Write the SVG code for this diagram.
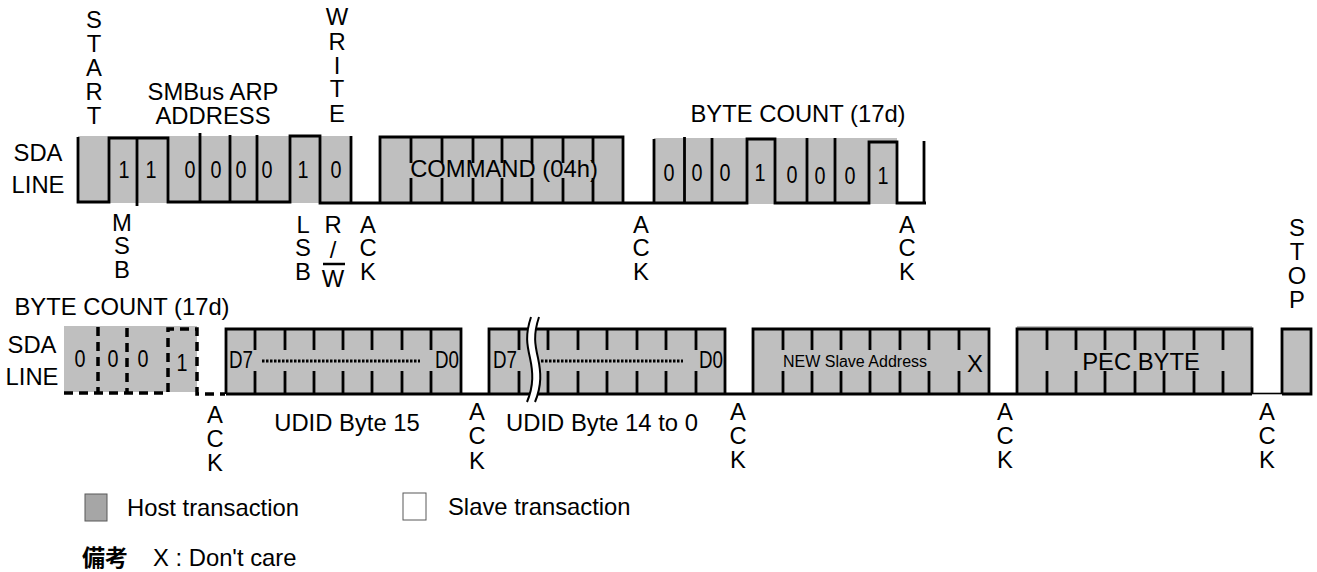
<svg xmlns="http://www.w3.org/2000/svg" width="1317" height="572" viewBox="0 0 1317 572">
<style>
text{font-family:"Liberation Sans",Arial,sans-serif;font-size:23.800px;fill:#000}
.m{text-anchor:middle}
.d{font-size:24px;text-anchor:middle}
.g{fill:#bfbfbf}
.l{fill:none;stroke:#000;stroke-width:2.800}
.da{fill:none;stroke:#000;stroke-width:3.500;stroke-dasharray:9 6}
.dot{fill:none;stroke:#000;stroke-width:3;stroke-dasharray:2.500 1.500}
.w{fill:none;stroke:#000;stroke-width:2}
</style>
<g id="row1-fill">
<rect class="g" x="78" y="136" width="273" height="67"/>
<rect class="g" x="380" y="137" width="243" height="66"/>
<rect class="g" x="654" y="138" width="243" height="66"/>
</g>
<g id="row2-fill">
<rect class="g" x="64" y="326" width="133" height="66"/>
<rect class="g" x="226" y="328" width="235" height="66"/>
<rect class="g" x="489" y="329" width="236" height="65"/>
<rect class="g" x="753" y="329" width="236" height="65"/>
<rect class="g" x="1017" y="326" width="235" height="68"/>
<rect class="g" x="1282" y="329" width="29" height="65"/>
</g>
<g id="row1-wave">
<path class="l" d="M78 137V202H109V138H168V202H290V136H320V203H351V136M320 203H380V137H623V203H380M623 203H654V139M654 203H747V139H775V203H869V142H897V203H926M924 141V203"/>
<path class="l" d="M137 138V206M200 133V202M230 135V202M257 135V202"/>
<path class="l" d="M411 137V163M442 137V163M473 137V163M502 137V163M532 137V163M563 137V163M593 137V163M411 178V203M442 178V203M473 178V203M502 178V203M532 178V203M563 178V203M593 178V203"/>
<path class="l" d="M684.500 137V203M712 138V203M807 138V203M835 138V203"/>
</g>
<g id="row2-wave">
<path class="da" d="M64 393H168V329H197V394H225M98 327V393M127 328V393"/>
<path class="l" d="M226 394V329H461V394M489 394V329H725V394M753 394V329H989V394M1017 394V329H1252V394M1282 394V329H1311V394H1282M226 394H1252"/>
<path d="M1252 393.500H1282" stroke="#000" stroke-width="1.600"/>
<path class="l" d="M255 329V350M285 329V350M314 329V350M343 329V350M372 329V350M402 329V350M431 329V350M255 371V394M285 371V394M314 371V394M343 371V394M372 371V394M402 371V394M431 371V394"/>
<path class="l" d="M519 329V350M548 329V350M578 329V350M607 329V350M637 329V350M666 329V350M696 329V350M519 371V394M548 371V394M578 371V394M607 371V394M637 371V394M666 371V394M696 371V394"/>
<path class="l" d="M783 329V350M812 329V350M841 329V350M870 329V350M900 329V350M929 329V350M959 329V350M783 371V394M812 371V394M841 371V394M870 371V394M900 371V394M929 371V394M959 371V394"/>
<path class="l" d="M1047 329V350M1076 329V350M1105 329V350M1135 329V350M1164 329V350M1194 329V350M1223 329V350M1047 371V394M1076 371V394M1105 371V394M1135 371V394M1164 371V394M1194 371V394M1223 371V394"/>
<path class="dot" d="M262 361H420M541 361H683"/>
<path d="M531 317C525 335 527 345 530 358C533 372 534 385 527 402H535C542 385 541 372 538 358C535 345 533 335 539 317Z" fill="#fff"/>
<path class="w" d="M531 317C525 335 527 345 530 358C533 372 534 385 527 402M539 317C533 335 535 345 538 358C541 372 542 385 535 402"/>
</g>
<g id="vertical-labels">
<text class="m" x="94" y="28">S</text><text class="m" x="94" y="52">T</text><text class="m" x="94" y="76">A</text><text class="m" x="94" y="100">R</text><text class="m" x="94" y="124">T</text>
<text class="m" x="337" y="25">W</text><text class="m" x="337" y="50">R</text><text class="m" x="337" y="74">I</text><text class="m" x="337" y="97">T</text><text class="m" x="337" y="122">E</text>
<text class="m" x="122" y="231">M</text><text class="m" x="122" y="254">S</text><text class="m" x="122" y="278">B</text>
<text class="m" x="303" y="233">L</text><text class="m" x="303" y="256">S</text><text class="m" x="303" y="280">B</text>
<text class="m" x="333" y="233">R</text><text class="m" x="333" y="258">/</text><text class="m" x="333" y="287">W</text>
<path d="M323 264H345" stroke="#000" stroke-width="2.500"/>
<text class="m" x="368" y="233">A</text><text class="m" x="368" y="256">C</text><text class="m" x="368" y="280">K</text>
<text class="m" x="641" y="233">A</text><text class="m" x="641" y="256">C</text><text class="m" x="641" y="280">K</text>
<text class="m" x="907" y="233">A</text><text class="m" x="907" y="256">C</text><text class="m" x="907" y="280">K</text>
<text class="m" x="215" y="423">A</text><text class="m" x="215" y="447">C</text><text class="m" x="215" y="471">K</text>
<text class="m" x="477" y="420">A</text><text class="m" x="477" y="444">C</text><text class="m" x="477" y="469">K</text>
<text class="m" x="738" y="420">A</text><text class="m" x="738" y="444">C</text><text class="m" x="738" y="468">K</text>
<text class="m" x="1005" y="420">A</text><text class="m" x="1005" y="444">C</text><text class="m" x="1005" y="468">K</text>
<text class="m" x="1267" y="420">A</text><text class="m" x="1267" y="444">C</text><text class="m" x="1267" y="468">K</text>
<text class="m" x="1297" y="236">S</text><text class="m" x="1297" y="260">T</text><text class="m" x="1297" y="284">O</text><text class="m" x="1297" y="308">P</text>
</g>
<g id="labels">
<text class="m" x="213" y="100">SMBus ARP</text><text class="m" x="213" y="124">ADDRESS</text>
<text class="m" x="798" y="122">BYTE COUNT (17d)</text>
<text class="m" x="122" y="315">BYTE COUNT (17d)</text>
<text class="m" x="38" y="161">SDA</text><text class="m" x="38" y="193">LINE</text>
<text class="m" x="32" y="353">SDA</text><text class="m" x="32" y="385">LINE</text>
<text class="m" x="347" y="431">UDID Byte 15</text><text class="m" x="602" y="431">UDID Byte 14 to 0</text>
<text class="m" x="504" y="177">COMMAND (04h)</text>
<text class="m" x="1141" y="370">PEC BYTE</text>
<text class="m" x="855" y="367" style="font-size:16px">NEW Slave Address</text>
<text class="m" x="975" y="372">X</text>
<text class="d" x="241" y="368" textLength="24" lengthAdjust="spacingAndGlyphs">D7</text>
<text class="d" x="447" y="368" textLength="24" lengthAdjust="spacingAndGlyphs">D0</text>
<text class="d" x="505" y="368" textLength="24" lengthAdjust="spacingAndGlyphs">D7</text>
<text class="d" x="711" y="368" textLength="24" lengthAdjust="spacingAndGlyphs">D0</text>
</g>
<g id="bit-labels">
<text class="d" x="124" y="178" textLength="11" lengthAdjust="spacingAndGlyphs">1</text><text class="d" x="151" y="178" textLength="11" lengthAdjust="spacingAndGlyphs">1</text>
<text class="d" x="190" y="178" textLength="11" lengthAdjust="spacingAndGlyphs">0</text><text class="d" x="216" y="178" textLength="11" lengthAdjust="spacingAndGlyphs">0</text><text class="d" x="241" y="178" textLength="11" lengthAdjust="spacingAndGlyphs">0</text><text class="d" x="267" y="178" textLength="11" lengthAdjust="spacingAndGlyphs">0</text>
<text class="d" x="303" y="178" textLength="11" lengthAdjust="spacingAndGlyphs">1</text><text class="d" x="336" y="178" textLength="11" lengthAdjust="spacingAndGlyphs">0</text>
<text class="d" x="669" y="181" textLength="11" lengthAdjust="spacingAndGlyphs">0</text><text class="d" x="697" y="181" textLength="11" lengthAdjust="spacingAndGlyphs">0</text><text class="d" x="725" y="181" textLength="11" lengthAdjust="spacingAndGlyphs">0</text><text class="d" x="760" y="181" textLength="11" lengthAdjust="spacingAndGlyphs">1</text>
<text class="d" x="792" y="183" textLength="11" lengthAdjust="spacingAndGlyphs">0</text><text class="d" x="820" y="184" textLength="11" lengthAdjust="spacingAndGlyphs">0</text><text class="d" x="850" y="184" textLength="11" lengthAdjust="spacingAndGlyphs">0</text><text class="d" x="883" y="184" textLength="11" lengthAdjust="spacingAndGlyphs">1</text>
<text class="d" x="80" y="367" textLength="11" lengthAdjust="spacingAndGlyphs">0</text><text class="d" x="113" y="367" textLength="11" lengthAdjust="spacingAndGlyphs">0</text><text class="d" x="143" y="367" textLength="11" lengthAdjust="spacingAndGlyphs">0</text><text class="d" x="182" y="371" textLength="11" lengthAdjust="spacingAndGlyphs">1</text>
</g>
<g id="legend-host"><rect x="85" y="494" width="22" height="27" fill="#a6a6a6" stroke="#595959" stroke-width="1"/><text x="127" y="516">Host transaction</text></g>
<g id="legend-slave"><rect x="403" y="493" width="23" height="27" fill="#fff" stroke="#595959" stroke-width="1"/><text x="448" y="515">Slave transaction</text></g>
<g id="note"><text x="82" y="566" style="font-family:'Noto Sans CJK JP',sans-serif;font-weight:700;font-size:23px">備考</text><text x="153" y="566">X : Don't care</text></g>
</svg>
